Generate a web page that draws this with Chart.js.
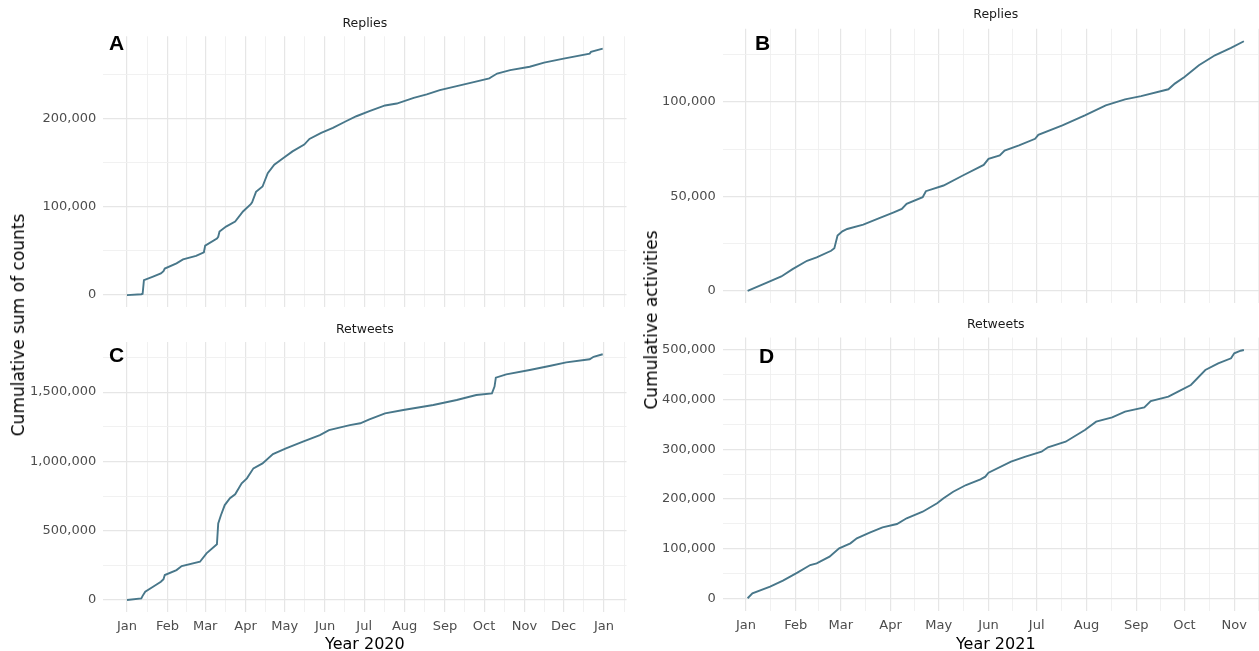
<!DOCTYPE html>
<html>
<head>
<meta charset="utf-8">
<script src="https://cdn.jsdelivr.net/npm/chart.js@4.4.1/dist/chart.umd.min.js"></script>
<style>
  html, body { margin: 0; padding: 0; background: #fff; overflow: hidden; width: 1259px; height: 651px; }
  canvas { position: absolute; }
  .ytitle {
    position: absolute; font-family: "DejaVu Sans", sans-serif; font-size: 17px; color: #000;
    white-space: nowrap; transform: translate(-50%, -50%) rotate(-90deg);
  }
</style>
</head>
<body>
<canvas id="panelA" width="630" height="320" style="left:0px;top:0px"></canvas>
<canvas id="panelC" width="630" height="342" style="left:0px;top:312px"></canvas>
<canvas id="panelB" width="640" height="320" style="left:630px;top:0px"></canvas>
<canvas id="panelD" width="640" height="342" style="left:630px;top:312px"></canvas>
<div class="ytitle" style="left:18px;top:325px">Cumulative sum of counts</div>
<div class="ytitle" style="left:651px;top:320px">Cumulative activities</div>

<script>
// ---- 2020: daily cumulative totals (sampled) ----
const replies2020Dates = ['2020-01-01','2020-01-12','2020-01-13','2020-01-14','2020-01-21','2020-01-27','2020-01-29','2020-01-30',
  '2020-02-08','2020-02-13','2020-02-23','2020-02-29','2020-03-01','2020-03-10','2020-03-11','2020-03-12','2020-03-17','2020-03-24',
  '2020-03-30','2020-04-05','2020-04-06','2020-04-09','2020-04-14','2020-04-18','2020-04-23','2020-04-30','2020-05-07','2020-05-16',
  '2020-05-20','2020-05-29','2020-06-07','2020-06-17','2020-06-25','2020-07-05','2020-07-17','2020-07-26','2020-08-08','2020-08-18',
  '2020-08-28','2020-09-10','2020-09-23','2020-10-05','2020-10-06','2020-10-11','2020-10-21','2020-11-05','2020-11-16','2020-12-01',
  '2020-12-21','2020-12-22','2020-12-31'];
const replies2020Counts = [0,1000,1500,17000,21000,24500,27000,30000,
  36000,40500,44300,48500,56000,64000,66000,72000,77600,83300,
  94700,103000,105000,117000,123000,138000,147700,155300,162800,170500,
  176900,183700,189400,196900,202600,208300,214800,217000,223500,227300,
  232200,236700,241300,245500,246500,251000,254900,258700,263300,267800,
  273500,275500,279200];

const retweets2020Dates = ['2020-01-01','2020-01-12','2020-01-13','2020-01-15','2020-01-21','2020-01-27','2020-01-29','2020-01-30',
  '2020-02-08','2020-02-12','2020-02-26','2020-03-02','2020-03-10','2020-03-11','2020-03-13','2020-03-16','2020-03-20','2020-03-24',
  '2020-03-29','2020-04-02','2020-04-07','2020-04-14','2020-04-22','2020-05-02','2020-05-15','2020-05-28','2020-06-04','2020-06-20',
  '2020-06-28','2020-07-05','2020-07-17','2020-07-31','2020-08-23','2020-09-10','2020-09-25','2020-10-07','2020-10-09','2020-10-10',
  '2020-10-18','2020-11-05','2020-11-21','2020-12-03','2020-12-21','2020-12-24','2020-12-31'];
const retweets2020Counts = [0,12000,30000,60000,96000,132000,150000,180000,
  216000,245000,276000,337000,402000,553000,610000,685000,734000,763000,
  842000,878000,950000,986000,1053000,1094000,1142000,1190000,1226000,1262000,
  1275000,1303000,1347000,1371000,1407000,1443000,1479000,1491000,1540000,1604000,
  1628000,1660000,1690000,1715000,1737000,1755000,1773000];

// ---- 2021: daily cumulative activities (sampled) ----
const replies2021Dates = ['2021-01-02','2021-01-14','2021-01-23','2021-01-30','2021-02-08','2021-02-14','2021-02-23','2021-02-25',
  '2021-02-27','2021-03-02','2021-03-05','2021-03-15','2021-03-25','2021-04-03','2021-04-08','2021-04-11','2021-04-21','2021-04-23',
  '2021-05-04','2021-05-16','2021-05-29','2021-06-01','2021-06-08','2021-06-11','2021-06-20','2021-06-30','2021-07-02','2021-07-17',
  '2021-07-31','2021-08-13','2021-08-25','2021-09-04','2021-09-21','2021-09-25','2021-10-01','2021-10-10','2021-10-20','2021-10-30',
  '2021-11-07'];
const replies2021Counts = [0,4400,7600,11500,15900,17700,21200,22500,
  29200,31500,32700,35000,38400,41500,43300,46000,49500,52700,
  55700,61000,66600,69800,71600,74200,76900,80400,82500,87500,
  92800,98100,101300,103000,106600,109600,113100,119300,124600,128500,
  132000];

const retweets2021Dates = ['2021-01-02','2021-01-05','2021-01-16','2021-01-24','2021-02-02','2021-02-10','2021-02-14','2021-02-22',
  '2021-02-28','2021-03-07','2021-03-11','2021-03-19','2021-03-27','2021-04-05','2021-04-11','2021-04-21','2021-04-30','2021-05-04',
  '2021-05-10','2021-05-18','2021-05-27','2021-05-30','2021-06-01','2021-06-15','2021-06-24','2021-07-04','2021-07-08','2021-07-19',
  '2021-07-31','2021-08-07','2021-08-17','2021-08-25','2021-09-06','2021-09-10','2021-09-21','2021-09-27','2021-10-05','2021-10-14',
  '2021-10-22','2021-10-30','2021-11-01','2021-11-05','2021-11-07'];
const retweets2021Counts = [0,10000,23400,35500,51600,67000,70400,83800,
  100600,110700,120800,132100,142900,149600,161100,174300,191300,201300,
  214600,228100,239600,244800,252900,275000,285100,295100,304000,315300,
  338800,355600,364400,375700,384500,397200,405900,416000,429500,459700,
  473100,483200,493300,498500,499900];

// ---- axis breaks ----
const monthNames = ['Jan','Feb','Mar','Apr','May','Jun','Jul','Aug','Sep','Oct','Nov','Dec'];
const monthBreaks2020 = ['2020-01-01','2020-02-01','2020-03-01','2020-04-01','2020-05-01','2020-06-01','2020-07-01',
  '2020-08-01','2020-09-01','2020-10-01','2020-11-01','2020-12-01','2021-01-01'];
const monthBreaks2021 = ['2021-01-01','2021-02-01','2021-03-01','2021-04-01','2021-05-01','2021-06-01','2021-07-01',
  '2021-08-01','2021-09-01','2021-10-01','2021-11-01'];
const yBreaksReplies2020 = [0, 100000, 200000];
const yBreaksRetweets2020 = [0, 500000, 1000000, 1500000];
const yBreaksReplies2021 = [0, 50000, 100000];
const yBreaksRetweets2021 = [0, 100000, 200000, 300000, 400000, 500000];

const DAY = 86400000;
const utc = s => Date.parse(s + 'T00:00:00Z');
const dayOffset = (s, origin) => (utc(s) - utc(origin)) / DAY;

// 5% padding on each side of the data range
function expand(lo, hi) { const d = (hi - lo) * 0.05; return [lo - d, hi + d]; }

function monthTicks(breaks, origin, lo, hi) {
  const majors = breaks.map(s => ({ value: dayOffset(s, origin), name: monthNames[new Date(utc(s)).getUTCMonth()], isMajor: true }));
  const last = new Date(utc(breaks[breaks.length - 1]));
  const next = (Date.UTC(last.getUTCFullYear(), last.getUTCMonth() + 1, 1) - utc(origin)) / DAY;
  const ext = majors.map(t => t.value).concat([next]);
  const minors = [];
  for (let i = 0; i < ext.length - 1; i++) minors.push({ value: (ext[i] + ext[i + 1]) / 2, name: '', isMajor: false });
  return majors.concat(minors).filter(t => t.value >= lo && t.value <= hi).sort((a, b) => a.value - b.value);
}

function valueTicks(breaks, lo, hi) {
  const step = breaks[1] - breaks[0];
  const out = [];
  breaks.forEach(v => { out.push({ value: v, isMajor: true }); out.push({ value: v + step / 2, isMajor: false }); });
  out.push({ value: breaks[0] - step / 2, isMajor: false });
  return out.filter(t => t.value >= lo && t.value <= hi).sort((a, b) => a.value - b.value);
}

const panelText = {
  id: 'panelText',
  afterDraw(chart, args, o) {
    const ctx = chart.ctx, a = chart.chartArea;
    ctx.save();
    ctx.fillStyle = '#1a1a1a';
    ctx.font = '12.5px "DejaVu Sans"';
    ctx.textAlign = 'center';
    ctx.textBaseline = 'middle';
    ctx.fillText(o.strip, (a.left + a.right) / 2, o.stripY);
    ctx.fillStyle = '#000';
    ctx.font = 'bold 21px "Liberation Sans", Arial, sans-serif';
    ctx.textAlign = 'left';
    ctx.textBaseline = 'alphabetic';
    ctx.fillText(o.letter, o.letterX, o.letterY);
    ctx.restore();
  }
};

const gridMajor = '#e6e6e6', gridMinor = '#efefef';
const tickFont = { family: 'DejaVu Sans', size: 13 };

function makePanel(id, p) {
  const origin = p.origin;
  const xs = p.dates.map(s => dayOffset(s, origin));
  const [xLo, xHi] = expand(Math.min(...xs), Math.max(...xs));
  const [yLo, yHi] = expand(0, Math.max(...p.counts));
  const xt = monthTicks(p.months, origin, xLo, xHi);
  const yt = valueTicks(p.yBreaks, yLo, yHi);
  const gridColor = ctx => (ctx.tick && ctx.tick.isMajor) ? gridMajor : gridMinor;
  const gridWidth = ctx => (ctx.tick && ctx.tick.isMajor) ? 1.2 : 0.9;

  return new Chart(document.getElementById(id), {
    type: 'line',
    data: {
      datasets: [{
        data: xs.map((x, i) => ({ x, y: p.counts[i] })),
        borderColor: '#48778a',
        borderWidth: 1.9,
        pointRadius: 0,
        tension: 0,
        fill: false
      }]
    },
    plugins: [panelText],
    options: {
      responsive: false,
      animation: false,
      devicePixelRatio: 1,
      layout: { padding: p.padding },
      plugins: {
        legend: { display: false },
        tooltip: { enabled: false },
        panelText: p.text
      },
      scales: {
        x: {
          type: 'linear', min: xLo, max: xHi,
          border: { display: false },
          grid: { color: gridColor, lineWidth: gridWidth, drawTicks: false },
          afterBuildTicks: s => { s.ticks = xt.map(t => ({ ...t })); },
          afterFit: s => { s.height = p.xHeight; s.paddingLeft = 0; s.paddingRight = 0; },
          ticks: {
            display: p.showX, autoSkip: false, maxRotation: 0, padding: 7,
            color: '#4d4d4d', font: tickFont,
            callback: (v, i, ticks) => ticks[i].name
          },
          title: {
            display: p.showX, text: p.xTitle, color: '#000',
            font: { family: 'DejaVu Sans', size: 16 }, padding: 0
          }
        },
        y: {
          type: 'linear', min: yLo, max: yHi,
          border: { display: false },
          grid: { color: gridColor, lineWidth: gridWidth, drawTicks: false },
          afterBuildTicks: s => { s.ticks = yt.map(t => ({ ...t })); },
          afterFit: s => { s.width = p.yWidth; s.paddingTop = 0; s.paddingBottom = 0; },
          ticks: {
            autoSkip: false, padding: 7, color: '#4d4d4d', font: tickFont,
            callback: (v, i, ticks) => ticks[i].isMajor ? v.toLocaleString('en-US') : ''
          }
        }
      }
    }
  });
}

makePanel('panelA', {
  origin: '2020-01-01', dates: replies2020Dates, counts: replies2020Counts,
  months: monthBreaks2020, yBreaks: yBreaksReplies2020,
  padding: { left: 0, right: 3.5, top: 36.3, bottom: 12.6 },
  yWidth: 103.2, xHeight: 0, showX: false, xTitle: '',
  text: { strip: 'Replies', stripY: 24, letter: 'A', letterX: 109, letterY: 50 }
});
makePanel('panelC', {
  origin: '2020-01-01', dates: retweets2020Dates, counts: retweets2020Counts,
  months: monthBreaks2020, yBreaks: yBreaksRetweets2020,
  padding: { left: 0, right: 3.5, top: 30, bottom: 0 },
  yWidth: 103.2, xHeight: 41.7, showX: true, xTitle: 'Year 2020',
  text: { strip: 'Retweets', stripY: 18, letter: 'C', letterX: 109, letterY: 50 }
});
makePanel('panelB', {
  origin: '2021-01-01', dates: replies2021Dates, counts: replies2021Counts,
  months: monthBreaks2021, yBreaks: yBreaksReplies2021,
  padding: { left: 0, right: 1.3, top: 28.8, bottom: 16.7 },
  yWidth: 92.8, xHeight: 0, showX: false, xTitle: '',
  text: { strip: 'Replies', stripY: 15, letter: 'B', letterX: 125, letterY: 50 }
});
makePanel('panelD', {
  origin: '2021-01-01', dates: retweets2021Dates, counts: retweets2021Counts,
  months: monthBreaks2021, yBreaks: yBreaksRetweets2021,
  padding: { left: 0, right: 1.3, top: 25.6, bottom: 0 },
  yWidth: 92.8, xHeight: 43.3, showX: true, xTitle: 'Year 2021',
  text: { strip: 'Retweets', stripY: 13, letter: 'D', letterX: 129, letterY: 50.5 }
});
</script>
</body>
</html>
